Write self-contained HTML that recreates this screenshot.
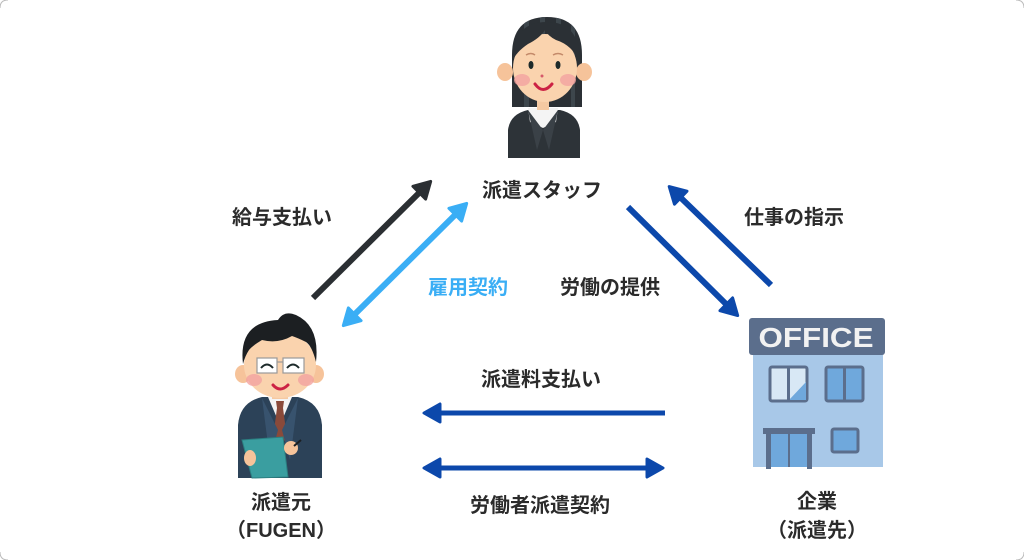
<!DOCTYPE html>
<html>
<head>
<meta charset="utf-8">
<style>
  html,body{margin:0;padding:0;background:#ffffff;}
  body{width:1024px;height:560px;overflow:hidden;}
  svg{display:block;}
  .t{font-family:"Liberation Sans","Noto Sans CJK JP",sans-serif;font-weight:700;font-size:20px;fill:#2b2b2b;}
</style>
</head>
<body>
<svg width="1024" height="560" viewBox="0 0 1024 560" xmlns="http://www.w3.org/2000/svg">
  <defs>
    <marker id="hk" viewBox="0 0 20 22" refX="3" refY="11" markerWidth="20" markerHeight="22" orient="auto-start-reverse" markerUnits="userSpaceOnUse">
      <path d="M2,2 L18,11 L2,20 z" fill="#2b2f33" stroke="#2b2f33" stroke-width="3" stroke-linejoin="round"/>
    </marker>
    <marker id="hl" viewBox="0 0 20 22" refX="3" refY="11" markerWidth="20" markerHeight="22" orient="auto-start-reverse" markerUnits="userSpaceOnUse">
      <path d="M2,2 L18,11 L2,20 z" fill="#3aaef5" stroke="#3aaef5" stroke-width="3" stroke-linejoin="round"/>
    </marker>
    <marker id="hd" viewBox="0 0 20 22" refX="3" refY="11" markerWidth="20" markerHeight="22" orient="auto-start-reverse" markerUnits="userSpaceOnUse">
      <path d="M2,2 L18,11 L2,20 z" fill="#0c48ab" stroke="#0c48ab" stroke-width="3" stroke-linejoin="round"/>
    </marker>
    <clipPath id="hairclip">
      <path d="M512,107 L512,55 Q512,17 547,17 Q582,17 582,55 L582,107 Z"/>
    </clipPath>
  </defs>

  <!-- faint rounded corners -->
  <path d="M0,8 Q0,0 8,0" fill="none" stroke="#bbb" stroke-width="1"/>
  <path d="M1016,560 Q1024,560 1024,552" fill="none" stroke="#bbb" stroke-width="1"/>
  <path d="M0,552 Q0,560 8,560" fill="none" stroke="#bbb" stroke-width="1"/>
  <path d="M1016,0 Q1024,0 1024,8" fill="none" stroke="#bbb" stroke-width="1"/>

  <!-- ARROWS -->
  <line x1="313" y1="298" x2="420" y2="192" stroke="#2b2f33" stroke-width="6" marker-end="url(#hk)"/>
  <line x1="354" y1="315" x2="456" y2="214" stroke="#3aaef5" stroke-width="6" marker-start="url(#hl)" marker-end="url(#hl)"/>
  <line x1="628" y1="207" x2="727" y2="305" stroke="#0c48ab" stroke-width="6" marker-end="url(#hd)"/>
  <line x1="771" y1="285" x2="680" y2="197" stroke="#0c48ab" stroke-width="6" marker-end="url(#hd)"/>
  <line x1="665" y1="413" x2="439" y2="413" stroke="#0c48ab" stroke-width="5" marker-end="url(#hd)"/>
  <line x1="439" y1="468" x2="648" y2="468" stroke="#0c48ab" stroke-width="5" marker-start="url(#hd)" marker-end="url(#hd)"/>

  <!-- LABELS -->
  <text class="t" x="542" y="197" text-anchor="middle">派遣スタッフ</text>
  <text class="t" x="282" y="224" text-anchor="middle">給与支払い</text>
  <text class="t" x="468" y="294" text-anchor="middle" style="fill:#3aaef5">雇用契約</text>
  <text class="t" x="610" y="294" text-anchor="middle">労働の提供</text>
  <text class="t" x="794" y="224" text-anchor="middle">仕事の指示</text>
  <text class="t" x="541" y="386" text-anchor="middle">派遣料支払い</text>
  <text class="t" x="540" y="512" text-anchor="middle">労働者派遣契約</text>
  <text class="t" x="281" y="509" text-anchor="middle">派遣元</text>
  <text class="t" x="281" y="537" text-anchor="middle">（FUGEN）</text>
  <text class="t" x="817" y="508" text-anchor="middle">企業</text>
  <text class="t" x="817" y="537" text-anchor="middle">（派遣先）</text>

  <!-- WOMAN (派遣スタッフ) -->
  <g>
    <!-- hair back -->
    <path d="M512,107 L512,55 Q512,17 547,17 Q582,17 582,55 L582,107 Z" fill="#2b3035"/>
    <g clip-path="url(#hairclip)">
      <rect x="524" y="15" width="5" height="95" fill="#3d464c"/>
      <rect x="540" y="15" width="5" height="30" fill="#3d464c"/>
      <rect x="556" y="15" width="5" height="32" fill="#3d464c"/>
      <rect x="571" y="15" width="4" height="95" fill="#3d464c"/>
    </g>
    <!-- jacket -->
    <path d="M508,158 L508,130 Q510,114 528,110 L560,110 Q578,114 580,130 L580,158 Z" fill="#2d3338"/>
    <!-- collar -->
    <path d="M528,108 L558,108 L556,122 L543,128 L530,122 Z" fill="#f4f4f4"/>
    <path d="M528,110 L543,130 L537,150 Z" fill="#3a4147"/>
    <path d="M558,110 L543,130 L549,150 Z" fill="#3a4147"/>
    <!-- neck -->
    <rect x="537" y="98" width="12" height="12" fill="#f5c9a2"/>
    <!-- ears -->
    <ellipse cx="505" cy="72" rx="8" ry="9" fill="#f6c39a"/>
    <ellipse cx="584" cy="72" rx="8" ry="9" fill="#f6c39a"/>
    <!-- face -->
    <ellipse cx="545" cy="68" rx="32" ry="34" fill="#fad3ae"/>
    <!-- bangs -->
    <path d="M512,62 Q512,22 547,22 Q580,22 580,62 Q572,45 556,40 Q548,36 545,30 Q540,38 528,44 Q516,52 512,62 Z" fill="#2b3035"/>
    <!-- cheeks -->
    <ellipse cx="522" cy="80" rx="8" ry="6" fill="#f2a3a0" opacity="0.8"/>
    <ellipse cx="568" cy="80" rx="8" ry="6" fill="#f2a3a0" opacity="0.8"/>
    <!-- brows/eyes -->
    <path d="M526,55 Q531,52 535,55" stroke="#c48a6a" stroke-width="1.5" fill="none"/>
    <path d="M553,55 Q558,52 563,55" stroke="#c48a6a" stroke-width="1.5" fill="none"/>
    <ellipse cx="531" cy="65" rx="2.5" ry="4" fill="#1d2a2a"/>
    <ellipse cx="558" cy="65" rx="2.5" ry="4" fill="#1d2a2a"/>
    <circle cx="542" cy="76" r="1.5" fill="#d65a6a"/>
    <path d="M535,84 Q543,95 552,84" stroke="#cc2244" stroke-width="3" fill="none" stroke-linecap="round"/>
  </g>

  <!-- MAN (派遣元) -->
  <g>
    <!-- body -->
    <path d="M238,478 L238,425 Q240,402 262,397 L298,397 Q320,402 322,425 L322,478 Z" fill="#2c4258"/>
    <path d="M268,397 L292,397 L280,425 Z" fill="#f4f4f4"/>
    <path d="M276,401 L284,401 L283,408 L287,438 L280,445 L273,438 L277,408 Z" fill="#8a4a3a"/>
    <path d="M262,398 L278,430 L270,460 Z" fill="#38536e"/>
    <path d="M298,398 L282,430 L290,460 Z" fill="#38536e"/>
    <!-- neck -->
    <rect x="272" y="390" width="16" height="9" fill="#f5c9a2"/>
    <!-- ears -->
    <ellipse cx="243" cy="374" rx="8" ry="9" fill="#f6c39a"/>
    <ellipse cx="316" cy="374" rx="8" ry="9" fill="#f6c39a"/>
    <!-- face -->
    <ellipse cx="280" cy="365" rx="36" ry="33" fill="#fad3ae"/>
    <!-- hair -->
    <path d="M243,364 Q238,322 278,320 Q284,310 296,315 Q320,326 316,362 Q312,346 306,342 Q298,338 292,336 Q278,344 262,340 Q252,346 249,350 Q245,356 243,364 Z" fill="#1c1f22"/>
    <!-- cheeks -->
    <ellipse cx="254" cy="380" rx="8" ry="6" fill="#f2a3a0" opacity="0.8"/>
    <ellipse cx="306" cy="380" rx="8" ry="6" fill="#f2a3a0" opacity="0.8"/>
    <!-- glasses -->
    <rect x="257" y="358" width="20" height="15" fill="#ffffff" stroke="#999" stroke-width="1.2"/>
    <rect x="283" y="358" width="21" height="15" fill="#ffffff" stroke="#999" stroke-width="1.2"/>
    <line x1="277" y1="362" x2="283" y2="362" stroke="#999" stroke-width="1.2"/>
    <path d="M261,368 Q267,361 273,368" stroke="#1d2a2a" stroke-width="2" fill="none"/>
    <path d="M287,368 Q293,361 299,368" stroke="#1d2a2a" stroke-width="2" fill="none"/>
    <path d="M273,385 Q280,393 288,385" stroke="#cc2244" stroke-width="3" fill="none" stroke-linecap="round"/>
    <!-- clipboard -->
    <path d="M242,440 L283,437 L288,477 L252,478 Z" fill="#3a9ea0" stroke="#2b7f81" stroke-width="1"/>
    <!-- hands -->
    <ellipse cx="250" cy="458" rx="6" ry="8" fill="#f6c39a"/>
    <ellipse cx="291" cy="448" rx="7" ry="7" fill="#f6c39a"/>
    <line x1="294" y1="446" x2="301" y2="440" stroke="#1c1f22" stroke-width="2"/>
  </g>

  <!-- OFFICE BUILDING (企業) -->
  <g>
    <rect x="753" y="352" width="130" height="115" fill="#a8c8e8"/>
    <rect x="749" y="318" width="136" height="37" rx="3" fill="#5b6e8c"/>
    <text x="816" y="347" text-anchor="middle" textLength="115" lengthAdjust="spacingAndGlyphs" style="font-family:'Liberation Sans',sans-serif;font-weight:700;font-size:28px;fill:#f2f2f2;">OFFICE</text>
    <!-- left window -->
    <rect x="770" y="367" width="37" height="34" rx="2" fill="#d8e8f5" stroke="#5b6e8c" stroke-width="3"/>
    <path d="M789,400 L806,382 L806,400 Z" fill="#6fa8dc"/>
    <line x1="788.5" y1="367" x2="788.5" y2="401" stroke="#5b6e8c" stroke-width="3"/>
    <!-- right window -->
    <rect x="826" y="367" width="37" height="34" rx="2" fill="#6fa8dc" stroke="#5b6e8c" stroke-width="3"/>
    <line x1="844.5" y1="367" x2="844.5" y2="401" stroke="#5b6e8c" stroke-width="3"/>
    <!-- door -->
    <rect x="771" y="434" width="36" height="33" fill="#6fa8dc"/>
    <line x1="789" y1="434" x2="789" y2="467" stroke="#5b6e8c" stroke-width="2"/>
    <rect x="763" y="428" width="52" height="6" fill="#5b6e8c"/>
    <rect x="766" y="434" width="5" height="35" fill="#5b6e8c"/>
    <rect x="807" y="434" width="5" height="35" fill="#5b6e8c"/>
    <!-- small window -->
    <rect x="832" y="429" width="26" height="23" rx="2" fill="#6fa8dc" stroke="#5b6e8c" stroke-width="3"/>
  </g>
</svg>
</body>
</html>
